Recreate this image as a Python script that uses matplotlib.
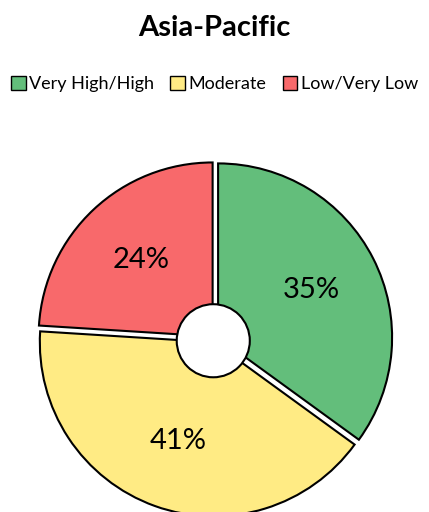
import matplotlib
matplotlib.use("Agg")
import matplotlib.pyplot as plt
from matplotlib.patches import Circle, Patch

categories = ["Very High/High", "Moderate", "Low/Very Low"]
values = [35, 41, 24]
colors = ["#63BE7B", "#FFEB84", "#F8696B"]
title = "Asia-Pacific"

plt.rcParams['font.family'] = ['Lato', 'DejaVu Sans']

W, H = 429, 512
fig = plt.figure(figsize=(W/100, H/100), dpi=100)
cx, cy, R = 215, 173, 174
L = 1.1
ax = fig.add_axes([(cx - R*L)/W, (cy - R*L)/H, 2*R*L/W, 2*R*L/H])

wedges, texts, autotexts = ax.pie(
    values, colors=colors, startangle=90, counterclock=False,
    explode=[0.02]*3, autopct='%d%%', pctdistance=0.6,
    wedgeprops=dict(edgecolor='black', linewidth=1.5),
    textprops=dict(fontsize=21, color='black'))
for w in wedges:
    w.set_clip_on(False)
ax.add_patch(Circle((-0.01, -0.01), 0.21, facecolor='white', edgecolor='black', linewidth=1.5, zorder=5))
ax.set_xlim(-L, L); ax.set_ylim(-L, L)
ax.set_aspect('equal')
ax.axis('off')

fig.text(0.5, 1 - 28/H, title, ha='center', va='center', fontsize=21, fontweight='bold')

handles = [Patch(facecolor=c, edgecolor='black', linewidth=1) for c in colors]
fig.legend(handles, categories, loc='center', bbox_to_anchor=(0.5, 1 - 84/H),
           ncol=3, frameon=False, fontsize=13, handlelength=0.8, handleheight=0.8,
           handletextpad=0.2, columnspacing=0.9, borderaxespad=0)

fig.savefig("out.png", dpi=100)
